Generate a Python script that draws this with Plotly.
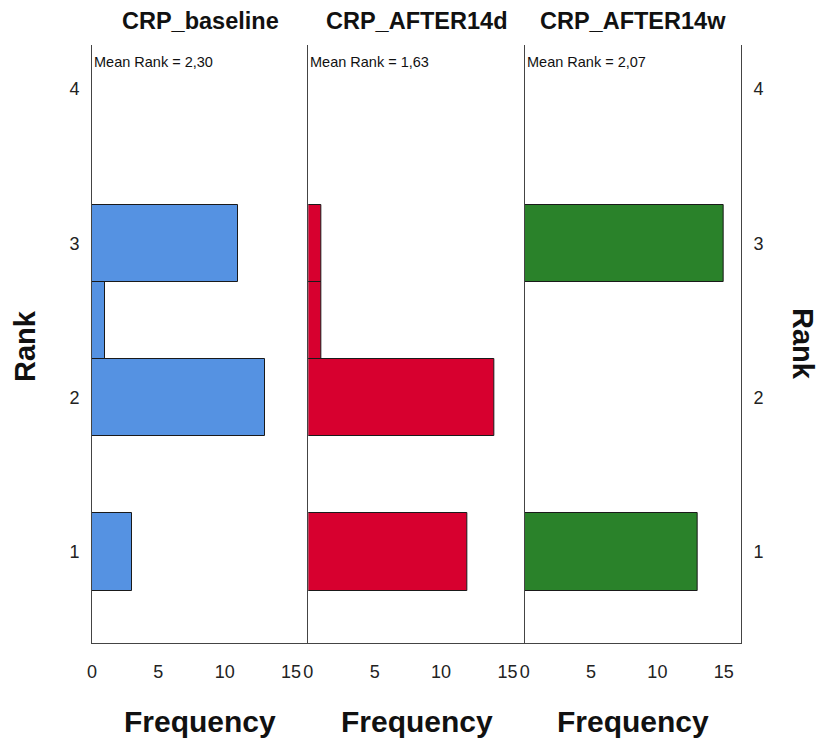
import plotly.graph_objects as go
from plotly.subplots import make_subplots

# Data
panels = ["CRP_baseline", "CRP_AFTER14d", "CRP_AFTER14w"]
ranks_baseline = [1, 2, 2.5, 3]
freq_baseline = [3, 13, 1, 11]
ranks_after14d = [1, 2, 2.5, 3]
freq_after14d = [12, 14, 1, 1]
ranks_after14w = [1, 3]
freq_after14w = [13, 15]
mean_ranks = ["2,30", "1,63", "2,07"]
colors = ["#5592E2", "#D7002F", "#2A822A"]
x_ticks = [0, 5, 10, 15]
y_ticks = [1, 2, 3, 4]

ranks_all = [ranks_baseline, ranks_after14d, ranks_after14w]
freqs_all = [freq_baseline, freq_after14d, freq_after14w]

fig = make_subplots(rows=1, cols=3, shared_yaxes=True, horizontal_spacing=0)

for i in range(3):
    fig.add_trace(
        go.Bar(
            y=ranks_all[i], x=freqs_all[i], orientation="h", width=0.5,
            marker=dict(color=colors[i], line=dict(color="#1a1a1a", width=1)),
            showlegend=False, hoverinfo="x+y",
        ),
        row=1, col=i + 1,
    )

font_family = "Liberation Sans, Arial, sans-serif"
axis_color = "#444444"

for i in range(3):
    fig.update_xaxes(
        range=[0, 16.3], tickvals=x_ticks, ticktext=[str(t) for t in x_ticks],
        showgrid=False, zeroline=False, showline=True, linecolor=axis_color, linewidth=1,
        ticks="", ticklabelstandoff=12,
        tickfont=dict(family=font_family, size=18, color="#222"),
        row=1, col=i + 1,
    )

yrange = [0.41, 4.285]
fig.update_yaxes(
    range=yrange, tickvals=y_ticks, showgrid=False, zeroline=False,
    showline=True, linecolor=axis_color, linewidth=1, ticks="",
    tickfont=dict(family=font_family, size=18, color="#222"),
)
fig.update_yaxes(showticklabels=True, ticklabelstandoff=8, row=1, col=1)
fig.update_yaxes(showticklabels=False, row=1, col=2)
fig.update_yaxes(side="right", mirror=True, showticklabels=True, ticklabelstandoff=8, row=1, col=3)

annotations = []
for i in range(3):
    xref = "x domain" if i == 0 else f"x{i+1} domain"
    annotations.append(dict(
        x=0.5, y=1.040, xref=xref, yref="paper", text=f"<b>{panels[i]}</b>",
        showarrow=False, xanchor="center", yanchor="middle",
        font=dict(family=font_family, size=23.5, color="#111"),
    ))
    annotations.append(dict(
        x=0.0, y=0.9716, xref=xref, yref="paper", text=f"Mean Rank = {mean_ranks[i]}",
        showarrow=False, xanchor="left", yanchor="middle",
        font=dict(family=font_family, size=14.5, color="#111"),
    ))
    annotations.append(dict(
        x=0.5, y=-0.132, xref=xref, yref="paper", text="<b>Frequency</b>",
        showarrow=False, xanchor="center", yanchor="middle",
        font=dict(family=font_family, size=30, color="#111"),
    ))

annotations.append(dict(
    x=-0.103, y=0.497, xref="paper", yref="paper", text="<b>Rank</b>", textangle=-90,
    showarrow=False, xanchor="center", yanchor="middle",
    font=dict(family=font_family, size=29, color="#111"),
))
annotations.append(dict(
    x=1.0955, y=0.50, xref="paper", yref="paper", text="<b>Rank</b>", textangle=90,
    showarrow=False, xanchor="center", yanchor="middle",
    font=dict(family=font_family, size=29, color="#111"),
))

fig.update_layout(
    width=819, height=741,
    margin=dict(l=92, r=78, t=45, b=98),
    plot_bgcolor="white", paper_bgcolor="white",
    annotations=annotations,
    bargap=0,
)

fig.write_html("out.html", config={"displayModeBar": False},
               post_script="document.body.style.margin='0';")
